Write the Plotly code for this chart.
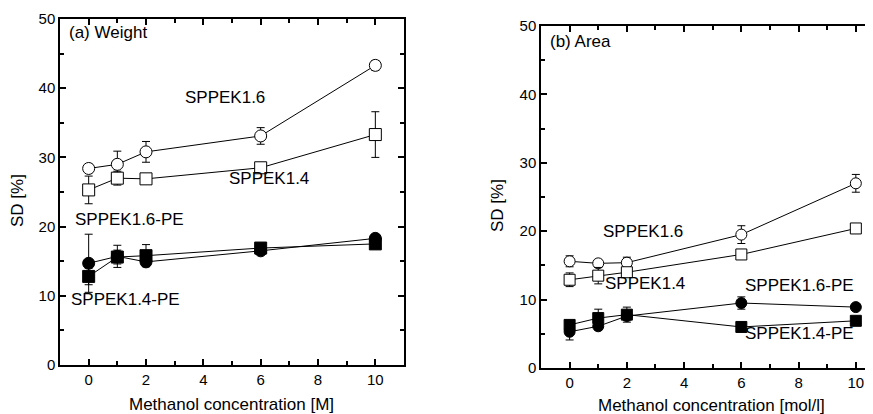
"""Swelling degree (SD) vs methanol concentration: weight and area panels."""

import plotly.graph_objects as go

FONT = "Liberation Sans, Arial, sans-serif"

conc = [0, 1, 2, 6, 10]

# (a) Weight
w_16 = [28.4, 29.0, 30.8, 33.1, 43.3]
w_16_err = [0.6, 1.9, 1.5, 1.2, 0.7]
w_14 = [25.3, 27.0, 26.9, 28.5, 33.3]
w_14_err = [2.0, 1.0, 0.6, 0.5, 3.3]
w_16pe = [14.7, 15.7, 14.9, 16.5, 18.3]
w_16pe_err = [4.2, 1.6, 0.6, 0.5, 0.5]
w_14pe = [12.8, 15.6, 15.8, 16.9, 17.5]
w_14pe_err = [1.2, 1.0, 1.6, 0.5, 0.5]

# (b) Area
a_16 = [15.6, 15.3, 15.4, 19.5, 27.0]
a_16_err = [0.8, 0.5, 0.8, 1.3, 1.3]
a_14 = [12.9, 13.5, 14.0, 16.6, 20.4]
a_14_err = [1.0, 1.2, 0.5, 0.6, 0.6]
a_16pe = [5.3, 6.1, 7.6, 9.5, 8.9]
a_16pe_err = [1.2, 0.5, 0.5, 0.9, 0.4]
a_14pe = [6.3, 7.3, 7.8, 6.0, 6.9]
a_14pe_err = [0.6, 1.3, 1.1, 0.4, 0.4]

# the page has an 8px body margin, so the figure is laid out in 865x406
W, H = 865, 406


def series(y, err, symbol, filled, xa, ya, size=12):
    return go.Scatter(
        x=conc,
        y=y,
        mode="lines+markers",
        line=dict(color="black", width=1),
        marker=dict(
            symbol=symbol,
            size=size,
            color="black" if filled else "white",
            line=dict(color="black", width=1),
        ),
        error_y=dict(type="data", array=err, color="black", thickness=1, width=4),
        xaxis=xa,
        yaxis=ya,
        cliponaxis=False,
        showlegend=False,
    )


fig = go.Figure()
fig.add_trace(series(w_16, w_16_err, "circle", False, "x", "y"))
fig.add_trace(series(w_14, w_14_err, "square", False, "x", "y"))
fig.add_trace(series(w_16pe, w_16pe_err, "circle", True, "x", "y"))
fig.add_trace(series(w_14pe, w_14pe_err, "square", True, "x", "y"))
fig.add_trace(series(a_16, a_16_err, "circle", False, "x2", "y2", 11))
fig.add_trace(series(a_14, a_14_err, "square", False, "x2", "y2", 11))
fig.add_trace(series(a_16pe, a_16pe_err, "circle", True, "x2", "y2", 11))
fig.add_trace(series(a_14pe, a_14pe_err, "square", True, "x2", "y2", 11))

axis_style = dict(
    showline=True,
    linecolor="black",
    linewidth=1.5,
    showgrid=False,
    zeroline=False,
    automargin=False,
    ticks="inside",
    ticklen=6,
    tickwidth=1.5,
    tickcolor="black",
    tickfont=dict(family=FONT, size=15, color="black"),
)
minor_x = dict(dtick=1, tick0=0, ticks="inside", ticklen=4, tickwidth=1.5, tickcolor="black")
minor_y = dict(dtick=5, tick0=0, ticks="inside", ticklen=4, tickwidth=1.5, tickcolor="black")

fig.update_layout(
    width=W,
    height=H,
    margin=dict(l=0, r=0, t=0, b=0),
    paper_bgcolor="white",
    plot_bgcolor="white",
    font=dict(family=FONT, size=17, color="black"),
    xaxis=dict(
        **axis_style, domain=[52 / W, 396 / W], range=[-1, 11],
        tickvals=[0, 2, 4, 6, 8, 10], mirror="ticks", minor=minor_x, anchor="y",
    ),
    yaxis=dict(
        **axis_style, domain=[1 - 357 / H, 1 - 11 / H], range=[0, 50],
        tickvals=[0, 10, 20, 30, 40, 50], mirror="ticks", minor=minor_y, anchor="x",
    ),
    xaxis2=dict(
        **axis_style, domain=[533 / W, 1.0], range=[-1, 10.6],
        tickvals=[0, 2, 4, 6, 8, 10], mirror="ticks", minor=minor_x, anchor="y2",
    ),
    yaxis2=dict(
        **axis_style, domain=[1 - 360 / H, 1 - 18 / H], range=[0, 50],
        tickvals=[0, 10, 20, 30, 40, 50], mirror=False, minor=minor_y, anchor="x2",
    ),
)

labels = [
    ("x", "y", 4.74, 38.6, "SPPEK1.6", "center"),
    ("x", "y", 6.3, 27.0, "SPPEK1.4", "center"),
    ("x", "y", 1.42, 21.0, "SPPEK1.6-PE", "center"),
    ("x", "y", 1.28, 9.5, "SPPEK1.4-PE", "center"),
    ("x", "y", -0.75, 48.0, "(a) Weight", "left"),
    ("x2", "y2", 2.56, 20.0, "SPPEK1.6", "center"),
    ("x2", "y2", 2.63, 12.4, "SPPEK1.4", "center"),
    ("x2", "y2", 8.04, 12.1, "SPPEK1.6-PE", "center"),
    ("x2", "y2", 8.04, 5.1, "SPPEK1.4-PE", "center"),
    ("x2", "y2", -0.75, 47.8, "(b) Area", "left"),
]
for xr, yr, x, y, text, anchor in labels:
    fig.add_annotation(
        x=x, y=y, xref=xr, yref=yr, text=text, showarrow=False,
        xanchor=anchor, yanchor="middle", font=dict(family=FONT, size=17, color="black"),
    )

# axis titles
titles = [
    (10 / W, 1 - 193 / H, "SD [%]", -90),
    (490 / W, 1 - 198 / H, "SD [%]", -90),
    (224 / W, 1 - 396 / H, "Methanol concentration [M]", 0),
    (703 / W, 1 - 397 / H, "Methanol concentration [mol/l]", 0),
]
for x, y, text, angle in titles:
    fig.add_annotation(
        x=x, y=y, xref="paper", yref="paper", text=text, showarrow=False,
        textangle=angle, xanchor="center", yanchor="middle",
        font=dict(family=FONT, size=17, color="black"),
    )

fig.write_html("out.html")
